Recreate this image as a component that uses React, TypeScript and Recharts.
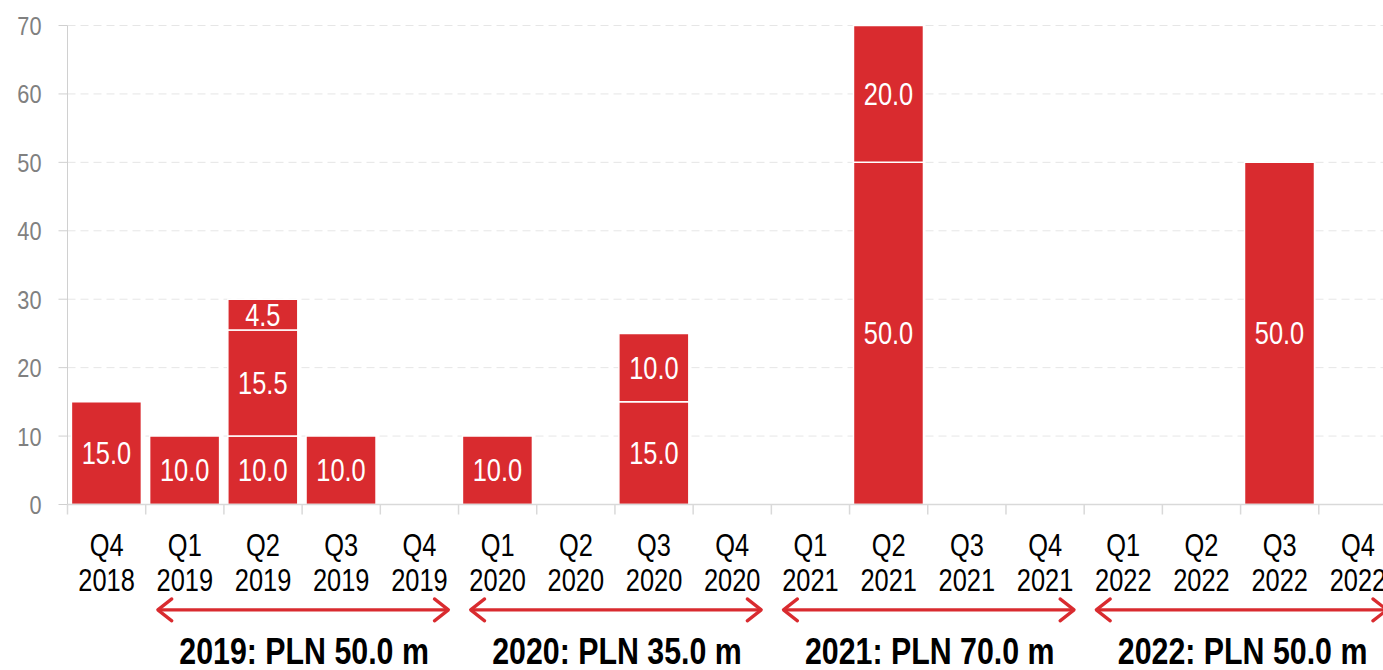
import { BarChart, Bar, XAxis, YAxis, CartesianGrid, LabelList, ReferenceLine } from "recharts";

const RED = "#d92b2f";
const FONT = "'Liberation Sans', Arial, sans-serif";
const NARROW = 0.82; // Arial Narrow ~ Arial squeezed horizontally

// one entry per quarter, tranches stacked bottom to top
const quarters = [
  "Q4 2018", "Q1 2019", "Q2 2019", "Q3 2019", "Q4 2019",
  "Q1 2020", "Q2 2020", "Q3 2020", "Q4 2020",
  "Q1 2021", "Q2 2021", "Q3 2021", "Q4 2021",
  "Q1 2022", "Q2 2022", "Q3 2022", "Q4 2022",
];
const tranche1 = [15, 10, 10, 10, 0, 10, 0, 15, 0, 0, 50, 0, 0, 0, 0, 50, 0];
const tranche2 = [0, 0, 15.5, 0, 0, 0, 0, 10, 0, 0, 20, 0, 0, 0, 0, 0, 0];
const tranche3 = [0, 0, 4.5, 0, 0, 0, 0, 0, 0, 0, 0, 0, 0, 0, 0, 0, 0];
const yTicks = [0, 10, 20, 30, 40, 50, 60, 70];

// yearly totals shown under the axis, arrow runs from first to last quarter
const yearSpans = [
  { text: "2019: PLN 50.0 m", first: "Q1 2019", last: "Q4 2019" },
  { text: "2020: PLN 35.0 m", first: "Q1 2020", last: "Q4 2020" },
  { text: "2021: PLN 70.0 m", first: "Q1 2021", last: "Q4 2021" },
  { text: "2022: PLN 50.0 m", first: "Q1 2022", last: "Q4 2022" },
];
const arrowLevel = -15.4;

const data = quarters.map((quarter, i) => ({
  quarter,
  t1: tranche1[i],
  t2: tranche2[i],
  t3: tranche3[i],
}));

function NarrowText({ x, y, size, anchor = "middle", fill = "#000", bold = false, children }: any) {
  return (
    <g transform={`translate(${x},${y}) scale(${NARROW},1)`}>
      <text
        x={0}
        y={0}
        textAnchor={anchor}
        fontFamily={FONT}
        fontSize={size}
        fontWeight={bold ? "bold" : "normal"}
        fill={fill}
      >
        {children}
      </text>
    </g>
  );
}

function QuarterTick({ x, y, payload, index, visibleTicksCount }: any) {
  const [q, yr] = String(payload.value).split(" ");
  const half = payload.offset || 0;
  const isLast = index === visibleTicksCount - 1;
  return (
    <g>
      <line x1={x - half} y1={y} x2={x - half} y2={y + 10} stroke="#d9d9d9" strokeWidth={1.5} />
      {isLast && <line x1={x + half} y1={y} x2={x + half} y2={y + 10} stroke="#d9d9d9" strokeWidth={1.5} />}
      <NarrowText x={x} y={y + 51.5} size={31}>{q}</NarrowText>
      <NarrowText x={x} y={y + 86} size={31}>{yr}</NarrowText>
    </g>
  );
}

function ValueTick({ x, y, payload }: any) {
  return (
    <NarrowText x={x} y={y + 9.5} size={26.5} anchor="end" fill="#808080">
      {payload.value}
    </NarrowText>
  );
}

function BarValue({ x, y, width, height, value }: any) {
  if (!(Number(value) > 0)) return null;
  return (
    <NarrowText x={x + width / 2} y={y + height / 2 + 11} size={31} fill="#fff">
      {Number(value).toFixed(1)}
    </NarrowText>
  );
}

function SpanArrow({ x1, y1, x2, text }: any) {
  const a = x1 - 27;
  const b = x2 + 29;
  const h = 14;
  const w = 11;
  return (
    <g>
      <line x1={a + 1} y1={y1} x2={b - 1} y2={y1} stroke={RED} strokeWidth={3.2} />
      <polyline
        points={`${a + h},${y1 - w} ${a},${y1} ${a + h},${y1 + w}`}
        fill="none"
        stroke={RED}
        strokeWidth={3.2}
        strokeLinecap="round"
        strokeLinejoin="round"
      />
      <polyline
        points={`${b - h},${y1 - w} ${b},${y1} ${b - h},${y1 + w}`}
        fill="none"
        stroke={RED}
        strokeWidth={3.2}
        strokeLinecap="round"
        strokeLinejoin="round"
      />
      <NarrowText x={(x1 + x2) / 2 + 2} y={y1 + 54.5} size={37} bold>
        {text}
      </NarrowText>
    </g>
  );
}

export default function App() {
  return (
    <div
      style={{
        position: "absolute",
        left: 0,
        top: 0,
        width: 1383,
        height: 670,
        overflow: "hidden",
        background: "#fff",
      }}
    >
      <BarChart
        width={1420}
        height={700}
        data={data}
        margin={{ top: 25.5, right: 23, left: 7.5, bottom: 105.5 }}
        barCategoryGap="5%"
      >
        <CartesianGrid vertical={false} stroke="#e6e6e6" strokeDasharray="8 5" />
        <XAxis
          dataKey="quarter"
          interval={0}
          tickLine={false}
          axisLine={{ stroke: "#d9d9d9", strokeWidth: 1.5 }}
          tickSize={0}
          tickMargin={0}
          height={90}
          tick={<QuarterTick />}
        />
        <YAxis
          domain={[0, 70]}
          ticks={yTicks}
          width={60}
          tickSize={9}
          tickMargin={17}
          axisLine={{ stroke: "#d0d0d0" }}
          tickLine={{ stroke: "#d0d0d0" }}
          tick={<ValueTick />}
        />
        {["t1", "t2", "t3"].map((key) => (
          <Bar key={key} dataKey={key} stackId="a" fill={RED} stroke="#fff" strokeWidth={1.5} isAnimationActive={false}>
            <LabelList dataKey={key} content={<BarValue />} />
          </Bar>
        ))}
        {yearSpans.map((s) => (
          <ReferenceLine
            key={s.text}
            ifOverflow="visible"
            segment={[
              { x: s.first, y: arrowLevel },
              { x: s.last, y: arrowLevel },
            ]}
            shape={(p: any) => <SpanArrow {...p} text={s.text} />}
          />
        ))}
      </BarChart>
    </div>
  );
}
